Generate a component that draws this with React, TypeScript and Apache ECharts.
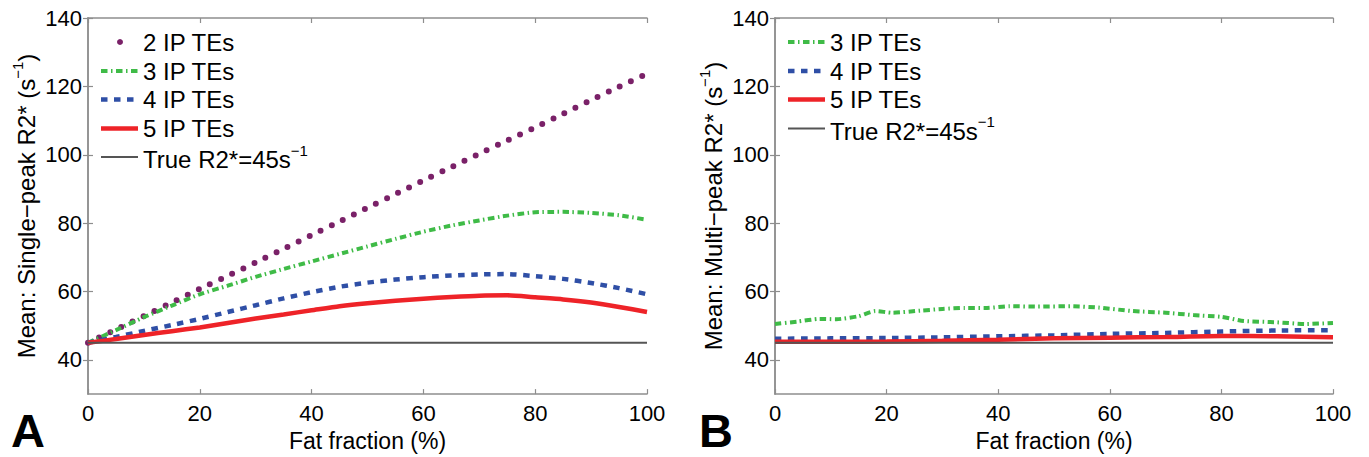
import React, { useEffect, useRef } from "react";
import * as echarts from "echarts";

// ---------- data ----------
const fatA = [0, 5, 10, 15, 20, 25, 30, 35, 40, 45, 50, 55, 60, 65, 70, 75, 80, 85, 90, 95, 100];
const twoIpA = [45, 48.9, 52.8, 56.8, 60.8, 64.6, 68.5, 72.5, 76.5, 80.5, 84.5, 88.5, 92.5, 96.4, 100.3, 104.2, 108, 112, 116, 119.9, 123.7];
const threeIpA = [45, 48.7, 52.5, 55.9, 59.2, 61.7, 64.3, 66.6, 68.8, 71, 73.2, 75.4, 77.5, 79.3, 80.8, 82.2, 83.2, 83.3, 83, 82.3, 81];
const fourIpA = [45, 46.7, 48.5, 50.2, 52, 54, 56, 58, 59.8, 61.4, 62.6, 63.5, 64.2, 64.7, 65, 65.1, 64.5, 63.7, 62.5, 61, 59.2];
const fiveIpA = [45, 46.1, 47.3, 48.4, 49.5, 50.8, 52.1, 53.3, 54.5, 55.7, 56.6, 57.3, 57.9, 58.4, 58.8, 58.9, 58.3, 57.7, 56.8, 55.5, 54];

const fatB3 = [0, 4, 8, 11, 15, 18, 21, 26, 30, 34, 38, 42, 47, 53, 58, 64, 70, 75, 80, 84, 90, 95, 100];
const threeIpB = [50.5, 51.2, 52, 51.9, 52.8, 54.3, 53.8, 54.4, 54.9, 55.2, 55.2, 55.7, 55.6, 55.7, 55.3, 54.3, 53.8, 53.1, 52.6, 51.4, 51, 50.5, 50.8];
const fatB = [0, 10, 20, 30, 40, 50, 60, 70, 80, 90, 100];
const fourIpB = [46.2, 46.3, 46.4, 46.6, 46.9, 47.2, 47.6, 47.9, 48.3, 48.6, 48.7];
const fiveIpB = [45.3, 45.3, 45.4, 45.6, 45.9, 46.3, 46.5, 46.7, 47, 46.9, 46.6];

const trueR2 = 45;
const yTicks = [40, 60, 80, 100, 120, 140];
const yMin = 30;
const yMax = 140;

// ---------- styles ----------
const FONT = '"Liberation Sans", Arial, Helvetica, sans-serif';
const FS_TICK = 22;
const FS_XNAME = 23;
const FS_YNAME = 24;
const FS_LEG = 24;
const AXIS_COLOR = "#8e8e8e";
const C_PURPLE = "#7a2168";
const C_GREEN = "#3fbb47";
const C_BLUE = "#2f4fa6";
const C_RED = "#ee2328";
const C_GRAY = "#555555";

const DASH_DOT = [6.5, 3.5, 1.5, 3.5];
const DASH = [6.5, 6.5];
const DOTS = [0, 12.3];

const pairs = (xs: number[], ys: number[]) => xs.map((x, i) => [x, ys[i]]);

export default function App() {
  const ref = useRef<HTMLDivElement>(null);

  useEffect(() => {
    document.body.style.margin = "0";
    if (!ref.current) return;
    const chart = echarts.init(ref.current, undefined, { renderer: "svg" });

    const grids = [
      { left: 88, top: 18, width: 559, height: 383 },
      { left: 775, top: 18, width: 558, height: 383 },
    ];

    const lineAxis = { show: true, lineStyle: { color: AXIS_COLOR, width: 1.5 } };
    const tickStyle = { lineStyle: { color: AXIS_COLOR, width: 1.2 } };

    const xAxis: any[] = [];
    const yAxis: any[] = [];
    [0, 1].forEach((g) => {
      xAxis.push({
        type: "value",
        gridIndex: g,
        min: 0,
        max: 100,
        interval: 20,
        position: "bottom",
        name: "Fat fraction (%)",
        nameLocation: "middle",
        nameGap: 26,
        nameTextStyle: { fontFamily: FONT, fontSize: FS_XNAME, color: "#000" },
        axisLine: lineAxis,
        axisTick: { show: true, inside: true, length: 5, ...tickStyle },
        axisLabel: { fontFamily: FONT, fontSize: FS_TICK, color: "#000", margin: 8 },
        splitLine: { show: false },
      });
      xAxis.push({
        type: "value",
        gridIndex: g,
        min: 0,
        max: 100,
        interval: 20,
        position: "top",
        axisLine: lineAxis,
        axisTick: { show: true, inside: true, length: 5, ...tickStyle },
        axisLabel: { show: false },
        splitLine: { show: false },
      });
      yAxis.push({
        type: "value",
        gridIndex: g,
        min: yMin,
        max: yMax,
        position: "left",
        name:
          g === 0
            ? "{a|Mean: Single\u2212peak R2* (s}{b|\u22121}{a|)}"
            : "{a|Mean: Multi\u2212peak R2* (s}{b|\u22121}{a|)}",
        nameLocation: "middle",
        nameGap: 50,
        nameTextStyle: {
          color: "#000",
          rich: {
            a: { fontFamily: FONT, fontSize: FS_YNAME, color: "#000", lineHeight: 28, verticalAlign: "bottom" },
            b: { fontFamily: FONT, fontSize: 15, color: "#000", lineHeight: 28, verticalAlign: "top" },
          },
        },
        axisLine: lineAxis,
        axisTick: { show: true, inside: true, length: 5, customValues: yTicks, ...tickStyle },
        axisLabel: { fontFamily: FONT, fontSize: FS_TICK, color: "#000", margin: 6, customValues: yTicks },
        splitLine: { show: false },
      });
      yAxis.push({
        type: "value",
        gridIndex: g,
        min: yMin,
        max: yMax,
        position: "right",
        axisLine: lineAxis,
        axisTick: { show: true, inside: true, length: 5, customValues: yTicks, ...tickStyle },
        axisLabel: { show: false, customValues: yTicks },
        splitLine: { show: false },
      });
    });

    const mk = (name: string, data: number[][], xi: number, yi: number, lineStyle: any) => ({
      type: "line",
      name,
      data,
      xAxisIndex: xi,
      yAxisIndex: yi,
      showSymbol: false,
      symbol: "none",
      smooth: 0.2,
      lineStyle,
      silent: true,
    });

    const series = [
      mk("2 IP TEs", pairs(fatA, twoIpA), 0, 0, { color: C_PURPLE, width: 6, type: DOTS, cap: "round" }),
      mk("3 IP TEs", pairs(fatA, threeIpA), 0, 0, { color: C_GREEN, width: 4, type: DASH_DOT }),
      mk("4 IP TEs", pairs(fatA, fourIpA), 0, 0, { color: C_BLUE, width: 4.5, type: DASH }),
      mk("5 IP TEs", pairs(fatA, fiveIpA), 0, 0, { color: C_RED, width: 4.5, type: "solid" }),
      mk("True R2*", [[0, trueR2], [100, trueR2]], 0, 0, { color: C_GRAY, width: 2, type: "solid" }),
      mk("3 IP TEs B", pairs(fatB3, threeIpB), 2, 2, { color: C_GREEN, width: 4, type: DASH_DOT }),
      mk("4 IP TEs B", pairs(fatB, fourIpB), 2, 2, { color: C_BLUE, width: 4.5, type: DASH }),
      mk("5 IP TEs B", pairs(fatB, fiveIpB), 2, 2, { color: C_RED, width: 4.5, type: "solid" }),
      mk("True R2* B", [[0, trueR2], [100, trueR2]], 2, 2, { color: C_GRAY, width: 2, type: "solid" }),
    ];

    const legendText = (x: number, y: number, text: string) => ({
      type: "text",
      x,
      y,
      style: {
        text,
        fontFamily: FONT,
        fontSize: FS_LEG,
        fill: "#000",
        verticalAlign: "middle",
        align: "left",
      },
    });
    const legendTrue = (x: number, y: number) => ({
      type: "text",
      x,
      y,
      style: {
        text: "{a|True R2*=45s}{b|\u22121}",
        verticalAlign: "middle",
        align: "left",
        rich: {
          a: { fontFamily: FONT, fontSize: FS_LEG, fill: "#000", lineHeight: 29, verticalAlign: "bottom" },
          b: { fontFamily: FONT, fontSize: 15, fill: "#000", lineHeight: 29, verticalAlign: "top" },
        },
      },
    });
    const sample = (x1: number, x2: number, y: number, stroke: string, lineWidth: number, lineDash?: number[]) => ({
      type: "line",
      shape: { x1, y1: y, x2, y2: y },
      style: { stroke, lineWidth, lineDash },
    });

    const rows = [42, 71, 99.5, 128.5, 157];
    const graphic: any[] = [
      // Panel A legend
      { type: "circle", shape: { cx: 120, cy: rows[0], r: 3 }, style: { fill: C_PURPLE } },
      legendText(143, rows[0], "2 IP TEs"),
      sample(101, 138, rows[1], C_GREEN, 4, DASH_DOT),
      legendText(143, rows[1], "3 IP TEs"),
      sample(101, 138, rows[2], C_BLUE, 4.5, DASH),
      legendText(143, rows[2], "4 IP TEs"),
      sample(101, 138, rows[3], C_RED, 4.5),
      legendText(143, rows[3], "5 IP TEs"),
      sample(101, 138, rows[4], C_GRAY, 2),
      legendTrue(143, rows[4]),
      // Panel B legend
      sample(788, 825, rows[0], C_GREEN, 4, DASH_DOT),
      legendText(830, rows[0], "3 IP TEs"),
      sample(788, 825, rows[1], C_BLUE, 4.5, DASH),
      legendText(830, rows[1], "4 IP TEs"),
      sample(788, 825, rows[2], C_RED, 4.5),
      legendText(830, rows[2], "5 IP TEs"),
      sample(788, 825, rows[3], C_GRAY, 2),
      legendTrue(830, rows[3]),
      // Panel letters
      {
        type: "text",
        x: 11,
        y: 430,
        style: { text: "A", fontFamily: FONT, fontWeight: "bold", fontSize: 47, fill: "#000", verticalAlign: "middle" },
      },
      {
        type: "text",
        x: 699,
        y: 430,
        style: { text: "B", fontFamily: FONT, fontWeight: "bold", fontSize: 47, fill: "#000", verticalAlign: "middle" },
      },
    ];

    chart.setOption({
      animation: false,
      backgroundColor: "#ffffff",
      grid: grids,
      xAxis,
      yAxis,
      series,
      graphic,
    });

    return () => chart.dispose();
  }, []);

  return <div ref={ref} style={{ width: 1369, height: 457 }} />;
}
